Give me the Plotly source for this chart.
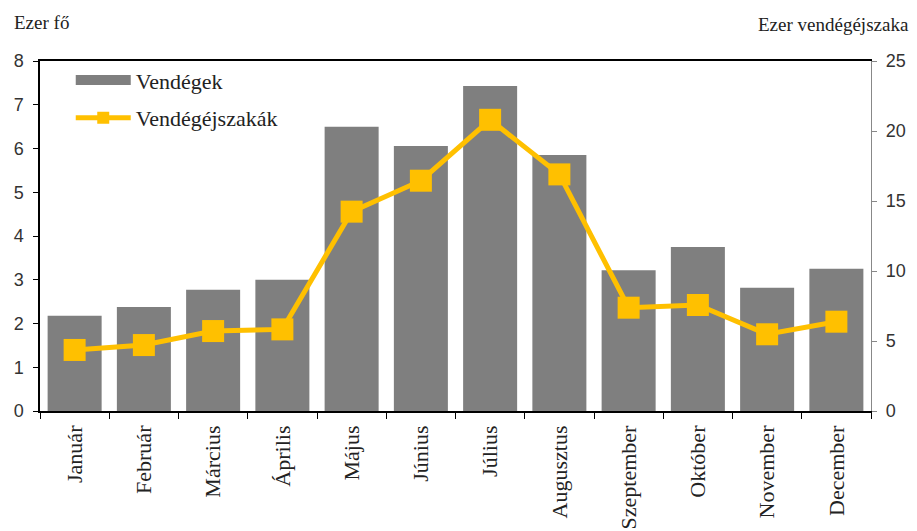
import plotly.graph_objects as go

months = ["Január", "Február", "Március", "Április", "Május", "Június",
          "Július", "Augusztus", "Szeptember", "Október", "November", "December"]
vendegek = [2.18, 2.38, 2.77, 3.0, 6.5, 6.06, 7.43, 5.85, 3.22, 3.75, 2.82, 3.25]
vendegejszakak = [4.36, 4.71, 5.71, 5.83, 14.24, 16.45, 20.8, 16.9, 7.38, 7.57, 5.48, 6.38]

left_ticks = list(range(0, 9))
right_ticks = list(range(0, 26, 5))

serif = "Liberation Serif"
sans = "Liberation Sans"
BAR = "#7F7F7F"
GOLD = "#FFC000"

fig = go.Figure()
fig.add_trace(go.Bar(
    x=months, y=vendegek, name="Vendégek",
    marker=dict(color=BAR, line=dict(width=0)),
    yaxis="y", showlegend=False,
))
fig.add_trace(go.Scatter(
    x=months, y=vendegejszakak, name="Vendégéjszakák",
    mode="lines+markers",
    line=dict(color=GOLD, width=5),
    marker=dict(symbol="square", size=22, color=GOLD),
    yaxis="y2", showlegend=False,
))
# legend-only entries (no data)
fig.add_trace(go.Scatter(
    x=[None], y=[None], name="Vendégek", mode="lines",
    line=dict(color=BAR, width=12), legendgroup="a",
))
fig.add_trace(go.Scatter(
    x=[None], y=[None], name="Vendégéjszakák", mode="lines+markers",
    line=dict(color=GOLD, width=5),
    marker=dict(symbol="square", size=12, color=GOLD), legendgroup="b",
))

fig.update_layout(
    width=917, height=531,
    margin=dict(l=40, r=46, t=61, b=120),
    paper_bgcolor="white", plot_bgcolor="white",
    bargap=0.22,
    showlegend=True,
    legend=dict(x=0.037, y=1.005, xanchor="left", yanchor="top",
                font=dict(family=serif, size=22, color="#222222"),
                bgcolor="rgba(0,0,0,0)", itemwidth=55, tracegroupgap=6),
    xaxis=dict(
        type="category", range=[-0.5, len(months) - 0.5],
        tickson="boundaries", ticks="outside", ticklen=6,
        tickcolor="black", showline=True, linecolor="black", linewidth=1.5,
        mirror=True, tickangle=-90, showgrid=False, automargin=False,
        ticklabelstandoff=4,
        tickfont=dict(family=serif, size=22, color="#222222"),
    ),
    yaxis=dict(
        range=[0, 8], tickvals=left_ticks, ticks="outside", ticklen=5,
        tickcolor="black", showline=True, linecolor="black", linewidth=1.5,
        showgrid=False, zeroline=False, automargin=False, ticklabelstandoff=6,
        tickfont=dict(family=sans, size=18, color="#333333"),
    ),
    yaxis2=dict(
        range=[0, 25], tickvals=right_ticks, overlaying="y", side="right",
        ticks="outside", ticklen=5, tickcolor="#888888",
        showline=True, linecolor="#888888", linewidth=1.2,
        showgrid=False, zeroline=False, automargin=False, ticklabelstandoff=5,
        tickfont=dict(family=sans, size=18, color="#333333"),
    ),
    annotations=[
        dict(text="Ezer fő", xref="paper", yref="paper",
             showarrow=False, xanchor="left", yanchor="middle",
             font=dict(family=serif, size=19, color="#222222")),
        dict(text="Ezer vendégéjszaka", xref="paper", yref="paper",
             showarrow=False, xanchor="right", yanchor="middle",
             font=dict(family=serif, size=19, color="#222222")),
    ],
)
h_plot = 531 - 61 - 120
w_plot = 917 - 40 - 46
fig.layout.annotations[0].update(x=(12 - 40) / w_plot, y=(411 - 22) / h_plot)
fig.layout.annotations[1].update(x=(911 - 40) / w_plot, y=(411 - 24) / h_plot)

fig.write_html("out.html", config={"displayModeBar": False},
               post_script="document.body.style.margin='0px';document.body.style.overflow='hidden';")
